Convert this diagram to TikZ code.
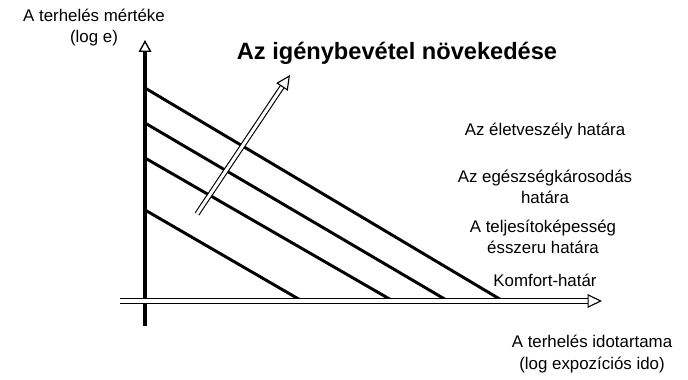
\documentclass[tikz,border=0pt]{standalone}
\usepackage{fontspec}
\setmainfont{Liberation Sans}
\usepackage{tikz}
\usetikzlibrary{arrows.meta, positioning, calc}

\begin{document}
\begin{tikzpicture}[
  label/.style={align=center, font=\fontsize{12}{15}\selectfont, inner sep=1pt},
  limit/.style={line width=2.1pt},
  axis/.style={line width=2.8pt, -{Triangle[open, length=3mm, width=3.2mm, line width=1pt]}},
  hollow/.style={double, double distance=2.2pt, line width=0.8pt, -{Triangle[open, length=3.6mm, width=3.4mm]}}
]
  \useasboundingbox (0,0) rectangle (17.2,9.5);

  \coordinate (ybot) at (3.625,1.35);
  \coordinate (ytop) at (3.625,8.5);
  \coordinate (xleft) at (3.0,1.975);
  \coordinate (xright) at (15.05,1.975);

  \coordinate (s1) at (3.625,7.3);   \coordinate (e1) at (12.575,1.975);
  \coordinate (s2) at (3.625,6.425); \coordinate (e2) at (11.2,1.975);
  \coordinate (s3) at (3.625,5.55);  \coordinate (e3) at (9.825,1.975);
  \coordinate (s4) at (3.625,4.25);  \coordinate (e4) at (7.55,1.975);

  \coordinate (gtail) at (4.925,4.15);
  \coordinate (ghead) at (7.25,7.625);

  \draw[limit] (s1) -- (e1);
  \draw[limit] (s2) -- (e2);
  \draw[limit] (s3) -- (e3);
  \draw[limit] (s4) -- (e4);

  \draw[axis] (ybot) -- (ytop);
  \draw[hollow] (xleft) -- (xright);
  \draw[hollow] (gtail) -- (ghead);

  \node[label] (ylab) at (2.35,8.8) {A terhelés mértéke\\(log e)};
  \node[font=\fontsize{16.8}{20}\selectfont\bfseries, inner sep=1pt] (title) at (9.925,8.175) {Az igénybevétel növekedése};
  \node[label] (life) at (13.625,6.225) {Az életveszély határa};
  \node[label] (health) at (13.625,4.82) {Az egészségkárosodás\\határa};
  \node[label] (perf) at (13.575,3.57) {A teljesítoképesség\\ésszeru határa};
  \node[label] (comfort) at (13.625,2.5) {Komfort-határ};
  \node[label] (xlab) at (14.8,0.65) {A terhelés idotartama\\(log expozíciós ido)};
\end{tikzpicture}
\end{document}
